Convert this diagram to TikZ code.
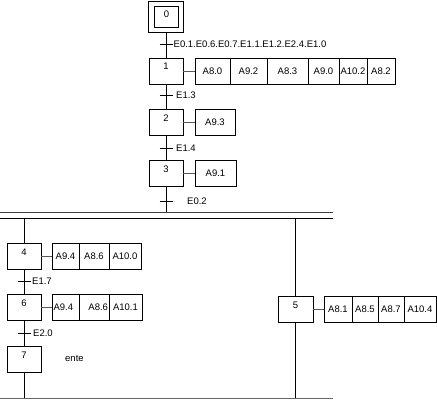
\documentclass[tikz,border=0pt]{standalone}
\usepackage{fontspec}
\setmainfont{Liberation Sans}
\begin{document}
\begin{tikzpicture}[x=1pt,y=-1pt,
  every node/.style={font=\fontsize{9.5}{11}\selectfont},
  stepbox/.style={draw, line width=0.8pt, minimum width=34pt, minimum height=26pt,
    inner sep=0pt, outer sep=0pt, anchor=north west, text height=7pt, text depth=8pt},
  act/.style={draw, line width=0.8pt, minimum height=26pt, inner sep=0pt, outer sep=0pt, anchor=west},
  link/.style={draw=black!65, line width=0.8pt},
  flow/.style={line width=0.8pt},
  tick/.style={line width=0.8pt},
  bar/.style={line width=0.9pt},
  tlabel/.style={anchor=west, inner sep=0pt}]
\useasboundingbox (0,0) rectangle (437,404);

% initial step
\node[draw, line width=0.8pt, minimum width=35pt, minimum height=31pt, inner sep=0pt, outer sep=0pt] (s0) at (166,16.5) {};
\node[draw, line width=0.8pt, minimum width=24pt, minimum height=21pt, inner sep=0pt, text height=7pt, text depth=4pt] (s0i) at (166.5,16.5) {0};

% steps
\node[stepbox, text depth=10pt] (s1) at (149,58) {1};
\node[stepbox] (s2) at (149,109) {2};
\node[stepbox] (s3) at (149,160) {3};
\node[stepbox] (s4) at (7,243) {4};
\node[stepbox] (s6) at (7,294) {6};
\node[stepbox] (s7) at (7,346) {7};
\node[stepbox, minimum width=35pt] (s5) at (278,296) {5};

% actions step 1
\node[act, minimum width=35pt] (a11) at (195,71) {A8.0};
\node[act, minimum width=37pt] (a12) at (a11.east) {A9.2};
\node[act, minimum width=41pt] (a13) at (a12.east) {A8.3};
\node[act, minimum width=31pt] (a14) at (a13.east) {A9.0};
\node[act, minimum width=28pt] (a15) at (a14.east) {A10.2};
\node[act, minimum width=28pt] (a16) at (a15.east) {A8.2};
% step 2, 3
\node[act, minimum width=40pt] (a21) at (195,122) {A9.3};
\node[act, minimum width=41pt] (a31) at (195,173) {A9.1};
% step 4
\node[act, minimum width=27pt] (a41) at (52,256) {A9.4};
\node[act, minimum width=30pt] (a42) at (a41.east) {A8.6};
\node[act, minimum width=32pt] (a43) at (a42.east) {A10.0};
% step 6
\node[act, minimum width=27pt] (a61) at (52,307) {\makebox[24pt][l]{A9.4}};
\node[act, minimum width=30pt] (a62) at (a61.east) {\makebox[28pt][r]{A8.6}};
\node[act, minimum width=33pt] (a63) at (a62.east) {A10.1};
% step 5
\node[act, minimum width=28pt] (a51) at (324,309) {A8.1};
\node[act, minimum width=26pt] (a52) at (a51.east) {A8.5};
\node[act, minimum width=26pt] (a53) at (a52.east) {A8.7};
\node[act, minimum width=32pt] (a54) at (a53.east) {A10.4};
% step 7 text
\node[anchor=west, inner sep=0pt] (n7) at (65,358) {ente};

% action links
\draw[link] (s1.east) -- (a11.west);
\draw[link] (s2.east) -- (a21.west);
\draw[link] (s3.east) -- (a31.west);
\draw[link] (s4.east) -- (a41.west);
\draw[link] (s6.east) -- (a61.west);
\draw[link] (s5.east) -- (a51.west);

% parallel bars
\coordinate (dl1) at (0,212);
\coordinate (dr1) at (333,212);
\coordinate (dl2) at (0,218);
\coordinate (dr2) at (333,218);
\coordinate (bl) at (0,398);
\coordinate (br) at (333,398);
\draw[bar, draw=black!75] (dl1) -- (dr1);
\draw[bar] (dl2) -- (dr2);
\draw[bar, draw=black!60] (bl) -- (br);

% flow lines
\draw[flow] (s0.south) -- (s1.north);
\draw[flow] (s1.south) -- (s2.north);
\draw[flow] (s2.south) -- (s3.north);
\draw[flow] (s3.south) -- (s3.south |- dl1);
\draw[flow] (s4.north |- dl2) -- (s4.north);
\draw[flow] (s4.south) -- (s6.north);
\draw[flow] (s6.south) -- (s7.north);
\draw[flow] (s7.south) -- (s7.south |- bl);
\draw[flow] (s5.north |- dl2) -- (s5.north);
\draw[flow] (s5.south) -- (s5.south |- bl);

% transitions
\coordinate (t0) at (166,44);
\coordinate (t1) at (166,95);
\coordinate (t2) at (166,148);
\coordinate (t3) at (166,201);
\coordinate (t4) at (24,281);
\coordinate (t6) at (24,333);
\foreach \t in {t0,t1,t2,t3,t4,t6}
  \draw[tick] ([xshift=-6.5pt]\t) -- ([xshift=6.5pt]\t);
\node[tlabel] (l0) at (173.5,44) {E0.1.E0.6.E0.7.E1.1.E1.2.E2.4.E1.0};
\node[tlabel] (l1) at (176,95) {E1.3};
\node[tlabel] (l2) at (176,148) {E1.4};
\node[tlabel] (l3) at (187,201) {E0.2};
\node[tlabel] (l4) at (32,281) {E1.7};
\node[tlabel] (l6) at (33,333) {E2.0};
\end{tikzpicture}
\end{document}
